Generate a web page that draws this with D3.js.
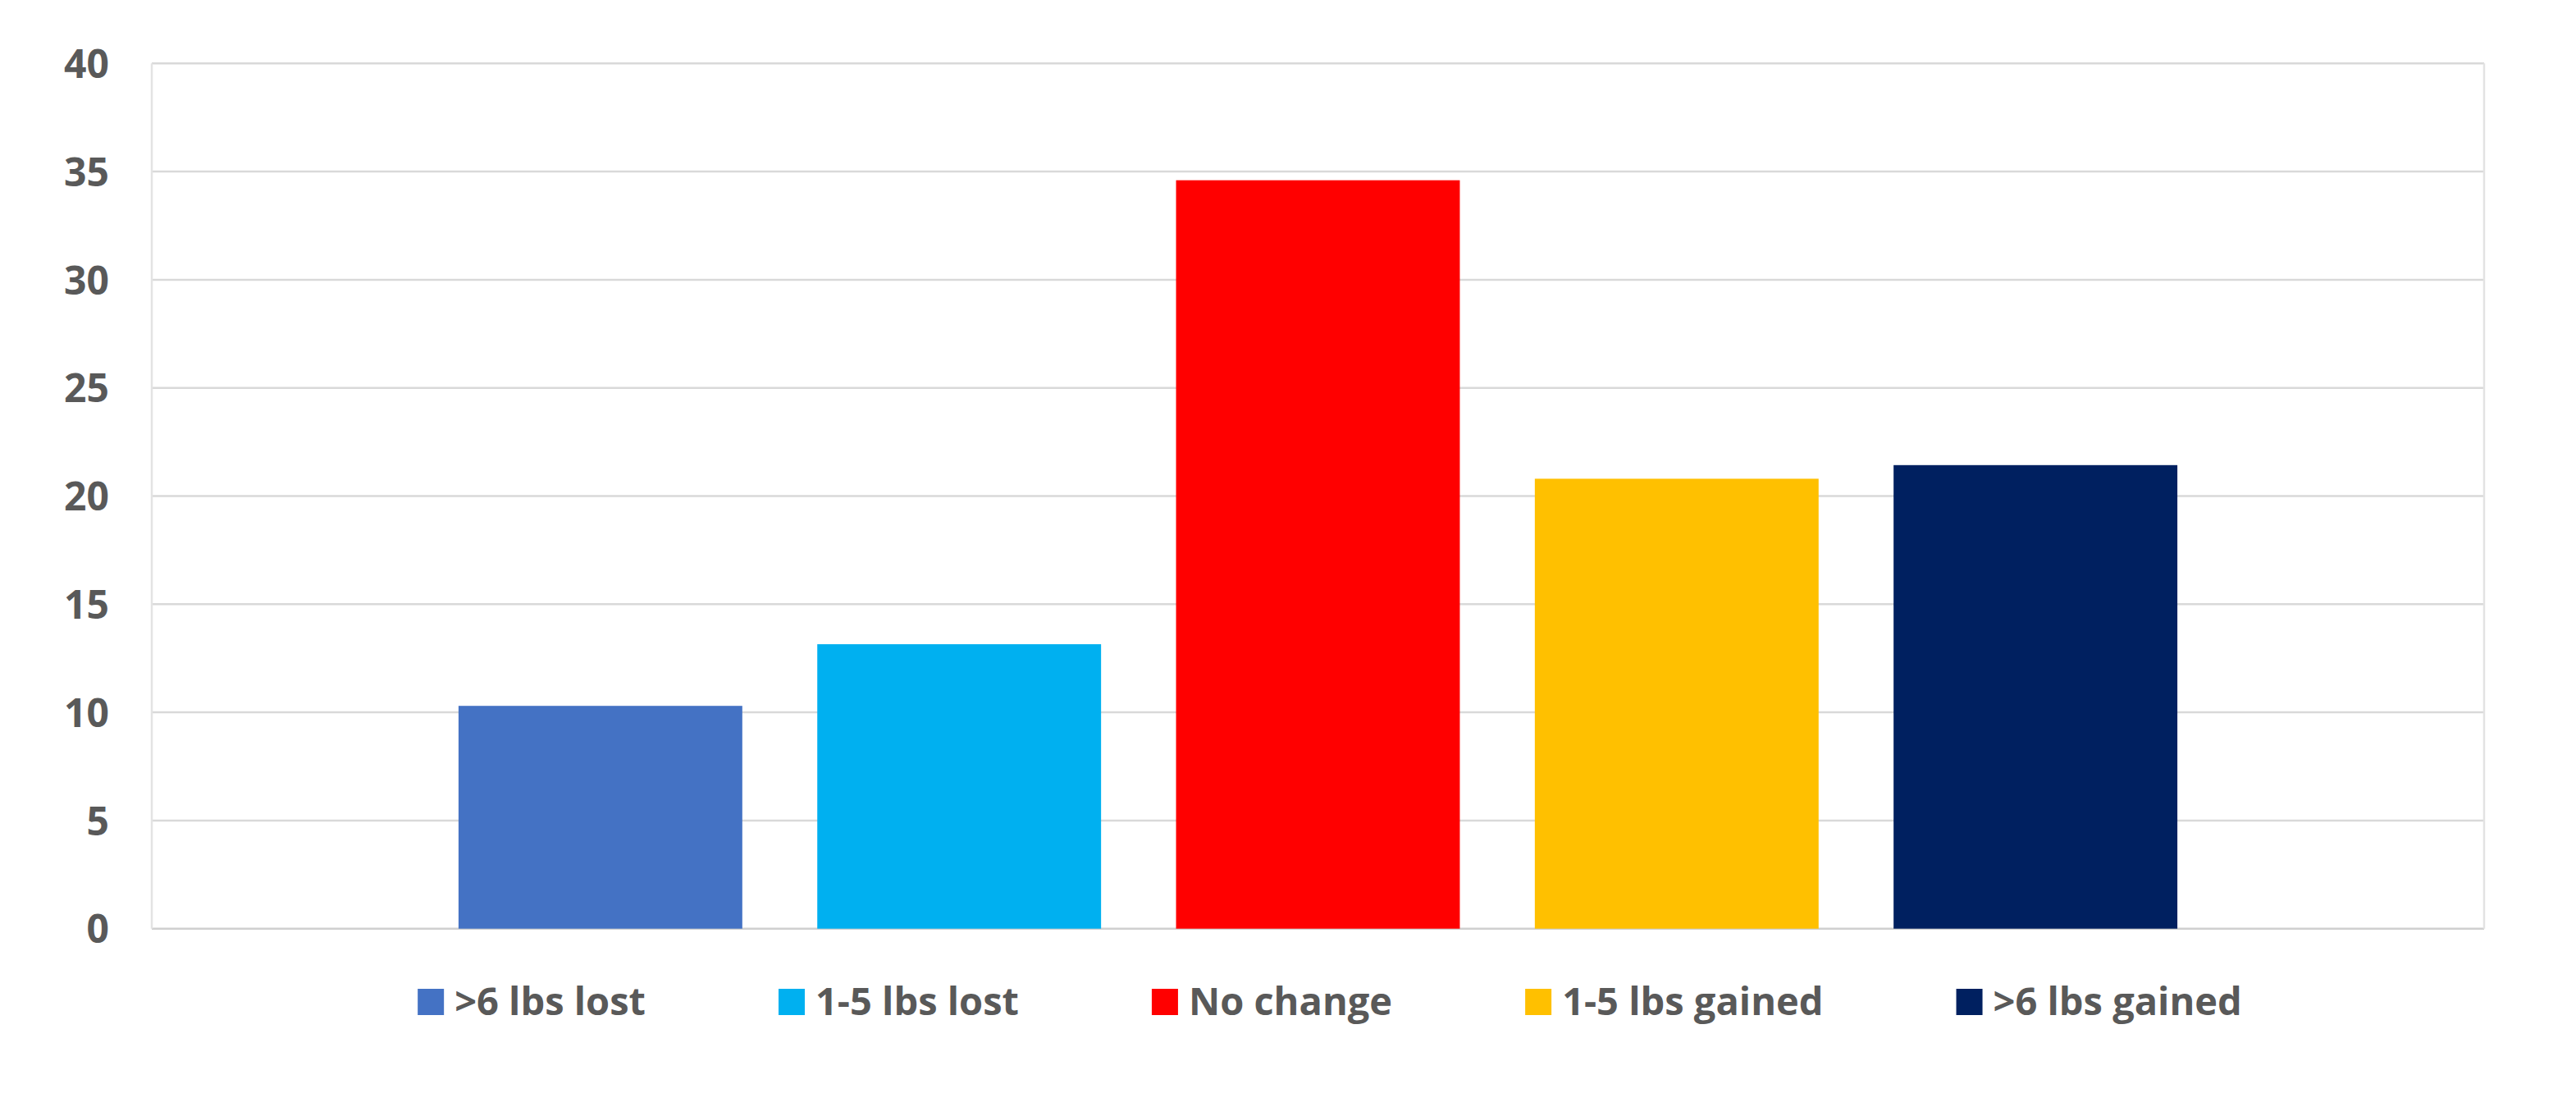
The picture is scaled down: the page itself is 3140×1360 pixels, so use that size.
<!DOCTYPE html>
<html>
<head>
<meta charset="utf-8">
<script src="https://cdn.jsdelivr.net/npm/d3@7"></script>
<style>
  html, body { margin: 0; padding: 0; background: #ffffff; }
  svg { display: block; }
</style>
</head>
<body>
<script>
// ---- data ----
const series = [">6 lbs lost", "1-5 lbs lost", "No change", "1-5 lbs gained", ">6 lbs gained"];
const values = [10.3, 13.15, 34.6, 20.8, 21.43];
const colors = ["#4472C4", "#00B0F0", "#FF0000", "#FFC000", "#002060"];
const yTicks = [0, 5, 10, 15, 20, 25, 30, 35, 40];

// ---- layout ----
const W = 3140, H = 1360;
const plot = { left: 185, right: 3028, top: 77.3, bottom: 1131.7 };
const fontFamily = "'Open Sans', 'Liberation Sans', sans-serif";
const textColor = "#595959";

const svg = d3.select("body").append("svg")
  .attr("width", W).attr("height", H);

svg.append("rect").attr("width", W).attr("height", H).attr("fill", "#fff");

const y = d3.scaleLinear().domain([0, 40]).range([plot.bottom, plot.top]);
const x = d3.scaleBand().domain(series)
  .range([plot.left, plot.right])
  .paddingInner(0.209).paddingOuter(0.855);

// gridlines
svg.append("g").selectAll("line").data(yTicks).join("line")
  .attr("x1", plot.left).attr("x2", plot.right)
  .attr("y1", d => y(d)).attr("y2", d => y(d))
  .attr("stroke", d => d === 0 ? "#cfcfcf" : "#d9d9d9")
  .attr("stroke-width", 2.5);

// plot-area side borders
svg.append("g").selectAll("line").data([plot.left, plot.right]).join("line")
  .attr("x1", d => d).attr("x2", d => d)
  .attr("y1", plot.top).attr("y2", plot.bottom)
  .attr("stroke", "#e3e3e3").attr("stroke-width", 2.5);

// y axis labels via d3 axis
const yAxis = d3.axisLeft(y).tickValues(yTicks).tickSize(0).tickPadding(0).tickFormat(d3.format("d"));
const gy = svg.append("g").attr("transform", `translate(${plot.left - 52},0)`).call(yAxis);
gy.select(".domain").remove();
gy.selectAll("text")
  .attr("fill", textColor)
  .attr("font-family", fontFamily)
  .attr("font-weight", 700)
  .attr("font-size", 48)
  .attr("dy", "0.357em");

// bars
svg.append("g").selectAll("rect").data(series).join("rect")
  .attr("x", d => x(d))
  .attr("width", x.bandwidth())
  .attr("y", (d, i) => y(values[i]))
  .attr("height", (d, i) => y(0) - y(values[i]))
  .attr("fill", (d, i) => colors[i]);

// legend
const legend = svg.append("g");
const sq = 32, sqGap = 13, itemGap = 162, baseline = 1237;
const items = legend.selectAll("g").data(series).join("g");
items.append("rect")
  .attr("width", sq).attr("height", sq)
  .attr("y", baseline - sq)
  .attr("fill", (d, i) => colors[i]);
items.append("text")
  .attr("x", sq + sqGap)
  .attr("y", baseline)
  .attr("fill", textColor)
  .attr("font-family", fontFamily)
  .attr("font-weight", 700)
  .attr("font-size", 47)
  .text(d => d);
const widths = [];
items.each(function () {
  const t = d3.select(this).select("text").node().getComputedTextLength();
  widths.push(sq + sqGap + t);
});
const total = d3.sum(widths) + itemGap * (series.length - 1);
const startX = 1621 - total / 2;
items.attr("transform", (d, i) => {
  const px = startX + d3.sum(widths.slice(0, i)) + itemGap * i;
  return `translate(${px},0)`;
});
</script>
</body>
</html>
